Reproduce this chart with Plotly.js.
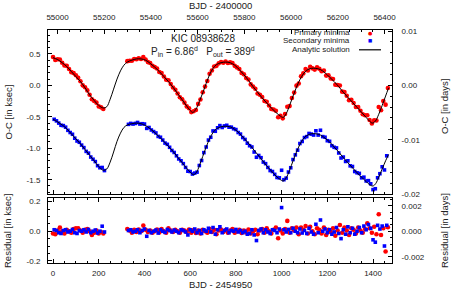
<!DOCTYPE html>
<html>
<head>
<meta charset="utf-8">
<script src="https://cdn.plot.ly/plotly-3.0.1.min.js"></script>
<style>html,body{margin:0;padding:0;background:#fff;}#chart{width:458px;height:291px;}</style>
</head>
<body>
<div id="chart"></div>
<script>
// ---- Data (BJD - 2454950, values in ksec) ----
const tPri = [0,10,20,30,40,50,60,70,80,90,100,110,120,130,140,150,160,170,180,190,200,210,220,
325,335,345,355,365,375,385,395,405,415,425,435,445,455,465,475,485,495,505,515,525,535,545,555,565,575,585,595,605,615,625,635,645,655,665,675,685,695,705,715,725,735,745,755,765,775,785,795,805,815,825,835,845,855,865,875,885,895,905,915,925,935,945,955,965,975,985,995,1005,1015,1025,1035,1045,1055,1065,1075,1085,1095,1105,1115,1125,1135,1145,1155,1165,1175,1185,1195,1205,1215,1225,1235,1245,1255,1265,1275,1285,1295,1305,1315,1325,1335,1345,1355,1365,1375,1385,1395,1405,1415,1425,1435,1445,1455,1465];
const ocPri = [0.45,0.405,0.415,0.41,0.36,0.315,0.31,0.26,0.21,0.195,0.16,0.12,0.065,0.0,-0.03,-0.08,-0.15,-0.22,-0.25,-0.275,-0.335,-0.35,-0.375,
0.385,0.39,0.39,0.42,0.415,0.432,0.42,0.448,0.41,0.37,
0.355,0.31,0.29,0.267,0.212,0.195,0.14,0.09,0.08,0.02,
-0.035,-0.07,-0.13,-0.19,-0.22,-0.275,-0.335,-0.363,-0.425,-0.412,
-0.392,-0.295,-0.225,-0.11,-0.02,0.07,0.185,0.235,0.30,0.31,
0.35,0.372,0.36,0.378,0.355,0.365,0.355,0.31,0.285,0.26,
0.198,0.175,0.117,0.092,0.015,-0.02,-0.055,-0.13,-0.15,-0.185,
-0.25,-0.26,-0.32,-0.375,-0.385,-0.405,-0.507,-0.485,-0.525,-0.455,
-0.34,-0.33,-0.20,-0.115,-0.005,0.03,0.145,0.19,0.26,0.235,
0.295,0.27,0.25,0.285,0.265,0.225,0.235,0.155,0.16,0.11,
0.10,0.01,0.005,-0.003,-0.10,-0.105,-0.165,-0.235,-0.23,-0.28,
-0.345,-0.345,-0.405,-0.46,-0.475,-0.476,-0.55,-0.605,-0.555,-0.56,
-0.345,-0.395,-0.25,-0.307,-0.043];
const resPri = [-0.015,-0.02,0.005,0.025,0.0,-0.015,0.01,0.0,-0.01,0.015,0.02,0.02,0.005,-0.01,0.01,0.015,0.0,-0.025,-0.01,0.005,-0.015,-0.005,-0.015,
0.015,0.005,-0.01,0.01,-0.005,0.012,0.0,0.038,0.01,-0.005,
0.005,-0.01,0.0,0.012,-0.008,0.015,0.0,-0.01,0.02,0.005,
-0.005,0.01,0.0,-0.01,0.01,0.005,-0.005,0.012,-0.01,0.008,
-0.012,0.005,-0.015,0.01,0.0,-0.01,0.015,-0.005,0.01,-0.02,
0.005,0.012,-0.005,0.008,-0.01,0.005,0.015,-0.01,0.0,0.01,
-0.012,0.005,-0.008,0.012,-0.015,0.0,0.01,-0.02,0.005,0.015,
-0.01,0.02,0.0,-0.015,0.01,0.025,-0.047,0.005,-0.015,0.015,
0.07,-0.01,0.02,0.005,0.025,-0.02,0.025,0.01,0.035,-0.015,
0.03,0.0,-0.02,0.02,0.01,-0.015,0.025,-0.025,0.01,-0.005,
0.02,-0.03,0.005,0.042,-0.01,0.025,0.005,-0.025,0.02,0.01,
-0.015,0.025,0.005,-0.01,0.015,0.054,0.02,-0.01,0.03,-0.02,
0.115,-0.025,0.02,-0.137,0.027];

const tSec = [5,15,25,35,45,55,65,75,85,95,105,115,125,135,145,155,165,175,185,195,205,215,225,
330,340,350,360,370,380,390,400,410,420,430,440,450,460,470,480,490,500,510,520,530,540,550,560,570,580,590,600,610,620,630,640,650,660,670,680,690,700,710,720,730,740,750,760,770,780,790,800,810,820,830,840,850,860,870,880,890,900,910,920,930,940,950,960,970,980,990,1000,1010,1020,1030,1040,1050,1060,1070,1080,1090,1100,1110,1120,1130,1140,1150,1160,1170,1180,1190,1200,1210,1220,1230,1240,1250,1260,1270,1280,1290,1300,1310,1320,1330,1340,1350,1360,1370,1380,1390,1400,1410,1420,1430,1440,1450,1460];
const ocSec = [-0.54,-0.565,-0.60,-0.635,-0.64,-0.665,-0.715,-0.75,-0.778,-0.84,-0.885,-0.905,-0.95,-0.99,-1.05,-1.078,-1.14,-1.175,-1.212,-1.277,-1.31,-1.306,-1.355,
-0.62,-0.605,-0.615,-0.605,-0.59,-0.615,-0.61,-0.615,-0.684,-0.67,
-0.71,-0.735,-0.757,-0.812,-0.825,-0.87,-0.918,-0.938,-0.985,-1.035,
-1.067,-1.12,-1.17,-1.20,-1.245,-1.305,-1.365,-1.37,-1.41,-1.395,
-1.38,-1.275,-1.195,-1.07,-0.98,-0.87,-0.825,-0.725,-0.73,-0.675,
-0.64,-0.67,-0.645,-0.635,-0.665,-0.665,-0.69,-0.703,-0.75,-0.775,
-0.83,-0.86,-0.92,-0.96,-0.98,-1.06,-1.143,-1.115,-1.15,-1.22,
-1.245,-1.305,-1.355,-1.37,-1.415,-1.465,-1.47,-1.35,-1.50,-1.475,
-1.378,-1.31,-1.18,-1.105,-1.03,-0.925,-0.892,-0.83,-0.815,-0.765,
-0.775,-0.79,-0.723,-0.79,-0.714,-0.815,-0.825,-0.88,-0.89,-0.96,
-0.985,-0.995,-1.075,-1.155,-1.14,-1.21,-1.20,-1.28,-1.29,-1.37,
-1.39,-1.40,-1.47,-1.46,-1.52,-1.515,-1.565,-1.658,-1.644,-1.47,
-1.405,-1.295,-1.345,-1.12];
const resSec = [0.01,0.005,-0.01,-0.015,0.005,0.01,-0.005,0.0,0.012,-0.01,-0.015,0.005,0.0,0.01,-0.005,0.012,-0.01,0.0,0.008,-0.012,0.0,0.034,-0.005,
0.005,0.01,-0.005,0.0,0.01,-0.01,0.005,0.015,-0.034,0.005,
-0.01,0.0,0.008,-0.012,0.01,0.0,-0.008,0.012,0.005,-0.005,
0.008,0.0,-0.01,0.01,0.005,-0.005,-0.025,0.01,0.0,0.015,
-0.01,0.005,-0.015,0.01,0.0,0.02,-0.005,0.025,-0.02,0.01,
0.03,-0.01,0.005,0.015,-0.01,0.005,0.0,0.012,-0.005,0.005,
-0.01,0.0,-0.02,-0.015,0.01,-0.025,-0.063,0.005,0.015,-0.01,
0.01,-0.005,-0.015,0.01,0.005,-0.01,0.015,0.16,0.01,-0.005,
0.012,-0.01,0.02,0.0,-0.01,0.015,-0.012,0.005,-0.015,0.02,
-0.005,-0.02,0.047,-0.01,0.076,0.0,0.015,-0.01,0.01,-0.02,
-0.005,0.025,-0.015,-0.05,0.01,-0.02,0.03,-0.01,0.02,-0.02,
0.0,0.025,-0.01,0.035,0.01,0.045,0.02,-0.058,-0.074,0.04,
0.015,0.035,-0.10,0.04];

// Analytic solution
const tFitPri = [0,20,40,60,80,100,120,140,160,180,200,220,235,250,265,280,295,310,325,345,365,385,405,425,445,465,485,505,525,545,565,585,600,612,625,640,655,670,685,700,715,735,755,775,795,815,835,855,875,895,915,935,955,975,995,1007,1020,1035,1050,1065,1080,1095,1110,1130,1150,1170,1190,1210,1230,1250,1270,1290,1310,1330,1350,1370,1385,1397,1410,1425,1440,1455,1468];
const fitPri = [0.44,0.41,0.36,0.30,0.22,0.14,0.06,-0.04,-0.15,-0.24,-0.32,-0.36,-0.34,-0.22,-0.06,0.10,0.23,0.32,0.37,0.40,0.42,0.42,0.40,0.35,0.29,0.22,0.14,0.06,-0.03,-0.13,-0.23,-0.33,-0.40,-0.43,-0.38,-0.26,-0.12,0.03,0.17,0.27,0.33,0.36,0.37,0.36,0.32,0.25,0.17,0.08,-0.02,-0.11,-0.20,-0.28,-0.36,-0.43,-0.49,-0.51,-0.45,-0.32,-0.17,-0.03,0.09,0.18,0.24,0.27,0.27,0.25,0.20,0.13,0.06,-0.02,-0.11,-0.19,-0.27,-0.35,-0.43,-0.51,-0.57,-0.60,-0.57,-0.46,-0.32,-0.17,-0.04];
const tFitSec = [0,20,40,60,80,100,120,140,160,180,200,220,235,250,265,280,295,310,325,345,365,385,405,425,445,465,485,505,525,545,565,585,600,615,628,640,655,670,685,700,715,735,755,775,795,815,835,855,875,895,915,935,955,975,995,1008,1020,1035,1050,1065,1080,1095,1110,1130,1150,1170,1190,1210,1230,1250,1270,1290,1310,1330,1350,1370,1385,1400,1412,1425,1440,1455,1468];
const fitSec = [-0.54,-0.58,-0.63,-0.69,-0.77,-0.85,-0.93,-1.02,-1.11,-1.20,-1.29,-1.35,-1.33,-1.22,-1.06,-0.89,-0.76,-0.67,-0.63,-0.61,-0.60,-0.61,-0.64,-0.69,-0.75,-0.82,-0.89,-0.97,-1.05,-1.14,-1.23,-1.32,-1.38,-1.42,-1.38,-1.28,-1.13,-0.98,-0.85,-0.75,-0.69,-0.66,-0.65,-0.66,-0.70,-0.76,-0.84,-0.92,-1.01,-1.10,-1.19,-1.28,-1.36,-1.44,-1.50,-1.52,-1.47,-1.35,-1.20,-1.06,-0.94,-0.85,-0.80,-0.77,-0.77,-0.79,-0.84,-0.90,-0.98,-1.06,-1.15,-1.23,-1.31,-1.39,-1.46,-1.53,-1.58,-1.60,-1.56,-1.46,-1.33,-1.20,-1.10];

// Tick labels
const xTicks = [0,200,400,600,800,1000,1200,1400];
const xTopTicks = [55000,55200,55400,55600,55800,56000,56200,56400];
const xTopLabels = ['55000','55200','55400','55600','55800','56000','56200','56400'];
const yMainTicks = [-1.5,-1.0,-0.5,0.0,0.5];
const yMainLabels = ['-1.5','-1.0','-0.5','0.0','0.5'];
const yDaysTicks = [-0.02,-0.01,0.0,0.01];
const yDaysLabels = ['-0.02','-0.01','0.00','0.01'];
const yResTicks = [-0.2,0.0,0.2];
const yResLabels = ['-0.2','0.0','0.2'];
const yResDaysTicks = [-0.002,0.0,0.002];
const yResDaysLabels = ['-0.002','0.000','0.002'];

const KSEC_PER_DAY = 86.4;
const BJD_OFFSET = 54950;
const FONT = 'Liberation Sans, Arial, Helvetica, sans-serif';
const TXT = '#222';

const red = '#ff0000', blue = '#0000ff';
const hidden = {mode:'lines', type:'scatter', showlegend:false, hoverinfo:'skip', opacity:0,
  line:{color:'rgba(0,0,0,0)', width:0}};
const traces = [
  {x: tPri, y: ocPri, xaxis:'x2', yaxis:'y', mode:'markers', type:'scatter', name:'Primary minima',
   marker:{color:red, size:4.6, symbol:'circle'}},
  {x: tSec, y: ocSec, xaxis:'x2', yaxis:'y', mode:'markers', type:'scatter', name:'Secondary minima',
   marker:{color:blue, size:3.6, symbol:'square'}},
  {x: tFitPri, y: fitPri, xaxis:'x2', yaxis:'y', mode:'lines', type:'scatter', name:'Analytic solution',
   line:{color:'#000', width:1, shape:'spline', smoothing:1}},
  {x: tFitSec, y: fitSec, xaxis:'x2', yaxis:'y', mode:'lines', type:'scatter', showlegend:false,
   line:{color:'#000', width:1, shape:'spline', smoothing:1}},
  {x: tPri, y: resPri, xaxis:'x', yaxis:'y3', mode:'markers', type:'scatter', showlegend:false,
   marker:{color:red, size:4.6, symbol:'circle'}},
  {x: tSec, y: resSec, xaxis:'x', yaxis:'y3', mode:'markers', type:'scatter', showlegend:false,
   marker:{color:blue, size:3.6, symbol:'square'}},
  // same data expressed on the secondary (days / BJD-2400000) axes, invisible, so those axes get drawn
  Object.assign({}, hidden, {x: tFitPri, y: fitPri.map(v => v / KSEC_PER_DAY), xaxis:'x2', yaxis:'y2'}),
  Object.assign({}, hidden, {x: tFitPri.map(t => t + BJD_OFFSET), y: fitPri, xaxis:'x3', yaxis:'y'}),
  Object.assign({}, hidden, {x: tPri, y: resPri.map(v => v / KSEC_PER_DAY), xaxis:'x', yaxis:'y4'})
];

const W = 458, H = 291, mL = 48, mR = 66, mT = 30, mB = 28;
const pw = W - mL - mR, ph = H - mT - mB;
const px = v => (v - mL) / pw;
const py = v => (H - mB - v) / ph;

const mainRange = [-1.728, 0.88];
const resRange = [-0.215, 0.225];
const tickFont = {family: FONT, size: 8, color: TXT};
const axBase = {showgrid:false, zeroline:false, showline:true, linecolor:'#000', linewidth:1,
  ticks:'inside', ticklen:4, tickcolor:'#000', tickfont: tickFont};

const layout = {
  width: W, height: H, margin:{l:mL, r:mR, t:mT, b:mB},
  paper_bgcolor:'#fff', plot_bgcolor:'#fff', showlegend:false,
  font:{family: FONT, color: TXT},
  xaxis: Object.assign({}, axBase, {domain:[0,1], anchor:'y3', range:[-22,1483],
    tickmode:'array', tickvals: xTicks, ticklabelstandoff:2, mirror:'ticks',
    minor:{ticks:'inside', ticklen:2, dtick:50, tick0:0, tickcolor:'#000'}}),
  xaxis2: Object.assign({}, axBase, {domain:[0,1], anchor:'y', matches:'x', showticklabels:false,
    tickmode:'array', tickvals: xTicks,
    minor:{ticks:'inside', ticklen:2, dtick:50, tick0:0, tickcolor:'#000'}}),
  xaxis3: Object.assign({}, axBase, {domain:[0,1], anchor:'y', overlaying:'x2', side:'top',
    range:[54959.3, 56432.1], tickmode:'array', tickvals: xTopTicks, ticktext: xTopLabels, ticklabelstandoff:6,
    minor:{ticks:'inside', ticklen:2, dtick:50, tick0:55000, tickcolor:'#000'}}),
  yaxis: Object.assign({}, axBase, {domain:[0.296,1], anchor:'x2', range: mainRange,
    tickmode:'array', tickvals: yMainTicks, ticktext: yMainLabels, ticklabelstandoff:5,
    minor:{ticks:'inside', ticklen:2, dtick:0.1, tick0:0, tickcolor:'#000'}}),
  yaxis2: Object.assign({}, axBase, {domain:[0.296,1], anchor:'x2', overlaying:'y', side:'right',
    range:[mainRange[0]/KSEC_PER_DAY, mainRange[1]/KSEC_PER_DAY],
    tickmode:'array', tickvals: yDaysTicks, ticktext: yDaysLabels, ticklabelstandoff:7,
    minor:{ticks:'inside', ticklen:2, dtick:0.002, tick0:0, tickcolor:'#000'}}),
  yaxis3: Object.assign({}, axBase, {domain:[0,0.279], anchor:'x', range: resRange,
    tickmode:'array', tickvals: yResTicks, ticktext: yResLabels, ticklabelstandoff:5,
    minor:{ticks:'inside', ticklen:2, dtick:0.05, tick0:0, tickcolor:'#000'}}),
  yaxis4: Object.assign({}, axBase, {domain:[0,0.279], anchor:'x', overlaying:'y3', side:'right',
    range:[resRange[0]/KSEC_PER_DAY, resRange[1]/KSEC_PER_DAY],
    tickmode:'array', tickvals: yResDaysTicks, ticktext: yResDaysLabels, ticklabelstandoff:7,
    minor:{ticks:'inside', ticklen:2, dtick:0.0005, tick0:0, tickcolor:'#000'}}),
  annotations: [
    {text:'KIC 08938628', xref:'paper', yref:'paper', x:px(203), y:py(38.5), showarrow:false,
     font:{family:FONT, size:10, color:TXT}, xanchor:'center', yanchor:'middle'},
    {text:'P<sub>in</sub> = 6.86<sup>d</sup>   P<sub>out</sub> = 389<sup>d</sup>', xref:'paper', yref:'paper',
     x:px(203), y:py(51), showarrow:false, font:{family:FONT, size:10, color:TXT}, xanchor:'center', yanchor:'middle'},
    {text:'Primary minima', xref:'paper', yref:'paper', x:px(352), y:py(32.5), showarrow:false,
     font:{family:FONT, size:8, color:TXT}, xanchor:'right', yanchor:'middle'},
    {text:'Secondary minima', xref:'paper', yref:'paper', x:px(352), y:py(41), showarrow:false,
     font:{family:FONT, size:8, color:TXT}, xanchor:'right', yanchor:'middle'},
    {text:'Analytic solution', xref:'paper', yref:'paper', x:px(352), y:py(49.5), showarrow:false,
     font:{family:FONT, size:8, color:TXT}, xanchor:'right', yanchor:'middle'},
    {text:'●', xref:'paper', yref:'paper', x:px(370), y:py(32.5), showarrow:false,
     font:{family:'DejaVu Sans', size:5, color:red}, xanchor:'center', yanchor:'middle'},
    {text:'■', xref:'paper', yref:'paper', x:px(370), y:py(41), showarrow:false,
     font:{family:'DejaVu Sans', size:4.5, color:blue}, xanchor:'center', yanchor:'middle'},
    {text:'BJD - 2400000', xref:'paper', yref:'paper', x:px(220), y:py(5), showarrow:false,
     font:{family:FONT, size:9.5, color:TXT}, xanchor:'center', yanchor:'middle'},
    {text:'BJD - 2454950', xref:'paper', yref:'paper', x:px(220), y:py(284), showarrow:false,
     font:{family:FONT, size:9.5, color:TXT}, xanchor:'center', yanchor:'middle'},
    {text:'O-C [in ksec]', xref:'paper', yref:'paper', x:px(7.5), y:py(112), showarrow:false, textangle:-90,
     font:{family:FONT, size:9.5, color:TXT}, xanchor:'center', yanchor:'middle'},
    {text:'O-C [in days]', xref:'paper', yref:'paper', x:px(444), y:py(107), showarrow:false, textangle:-90,
     font:{family:FONT, size:9.5, color:TXT}, xanchor:'center', yanchor:'middle'},
    {text:'Residual [in ksec]', xref:'paper', yref:'paper', x:px(7), y:py(231), showarrow:false, textangle:-90,
     font:{family:FONT, size:9.5, color:TXT}, xanchor:'center', yanchor:'middle'},
    {text:'Residual [in days]', xref:'paper', yref:'paper', x:px(444), y:py(231), showarrow:false, textangle:-90,
     font:{family:FONT, size:9.5, color:TXT}, xanchor:'center', yanchor:'middle'}
  ],
  shapes: [
    {type:'line', xref:'paper', yref:'paper', x0:px(359), x1:px(381), y0:py(49.8), y1:py(49.8),
     line:{color:'#000', width:1.2}}
  ]
};

Plotly.newPlot('chart', traces, layout, {displayModeBar:false, staticPlot:true});
</script>
</body>
</html>
